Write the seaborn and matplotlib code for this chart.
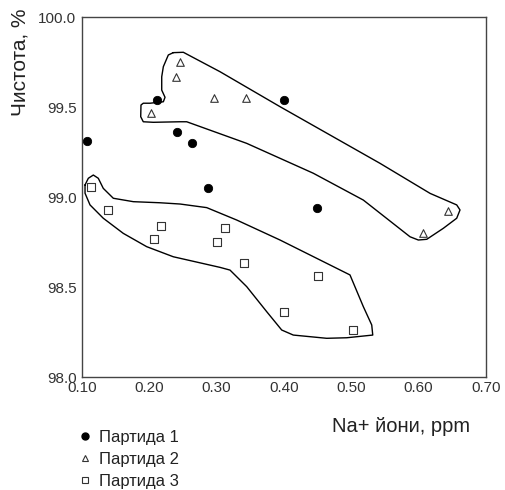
import matplotlib
matplotlib.use("Agg")
import matplotlib.pyplot as plt
import seaborn as sns
import pandas as pd
from matplotlib.lines import Line2D

sns.set_theme(style="white")
plt.rcParams['font.family'] = ['Liberation Sans', 'DejaVu Sans']

# --- data ---
p1_x = [0.108, 0.212, 0.241, 0.263, 0.287, 0.400, 0.449]
p1_y = [99.31, 99.54, 99.36, 99.30, 99.05, 99.54, 98.94]

p2_x = [0.246, 0.240, 0.202, 0.296, 0.343, 0.643, 0.606]
p2_y = [99.75, 99.665, 99.467, 99.548, 99.548, 98.924, 98.80]

p3_x = [0.114, 0.138, 0.218, 0.207, 0.313, 0.300, 0.340, 0.451, 0.400, 0.502]
p3_y = [99.054, 98.93, 98.837, 98.767, 98.83, 98.748, 98.633, 98.56, 98.36, 98.26]

# outline of group 2 region
hull2_x = [0.2356, 0.2505, 0.305, 0.394, 0.5426, 0.617, 0.6565, 0.6614, 0.6565, 0.6366,
           0.612, 0.5995, 0.5872, 0.5178, 0.4435, 0.3446, 0.2555, 0.2456, 0.2059, 0.191,
           0.1872, 0.1876, 0.191, 0.201, 0.2208, 0.2233, 0.2184, 0.2184, 0.2208, 0.2282, 0.2356]
hull2_y = [99.802, 99.804, 99.696, 99.502, 99.187, 99.02, 98.956, 98.928, 98.882, 98.826,
           98.765, 98.761, 98.779, 98.983, 99.132, 99.298, 99.418, 99.418, 99.415, 99.418,
           99.446, 99.511, 99.521, 99.521, 99.529, 99.554, 99.594, 99.668, 99.724, 99.789, 99.802]

# outline of group 3 region
hull3_x = [0.1045, 0.1094, 0.1168, 0.1242, 0.1316, 0.1465, 0.1762, 0.2158, 0.2456, 0.2852,
           0.3298, 0.3941, 0.498, 0.5178, 0.5303, 0.5318, 0.4931, 0.4634, 0.4138, 0.3966,
           0.3743, 0.3446, 0.3198, 0.305, 0.2356, 0.1961, 0.1613, 0.1316, 0.1119, 0.1045, 0.1045]
hull3_y = [99.067, 99.104, 99.122, 99.104, 99.048, 98.993, 98.974, 98.968, 98.961, 98.941,
           98.872, 98.761, 98.567, 98.391, 98.289, 98.233, 98.218, 98.215, 98.233, 98.261,
           98.363, 98.502, 98.594, 98.609, 98.668, 98.724, 98.798, 98.882, 98.956, 99.021, 99.067]

labels = ["Партида 1", "Партида 2", "Партида 3"]
x_ticks = [0.10, 0.20, 0.30, 0.40, 0.50, 0.60, 0.70]
y_ticks = [98.0, 98.5, 99.0, 99.5, 100.0]

fig = plt.figure(figsize=(5.05, 4.90), dpi=100)
ax = fig.add_axes([82/505, 1-377/490, (486-82)/505, (377-17)/490])

df1 = pd.DataFrame({"x": p1_x, "y": p1_y})
df2 = pd.DataFrame({"x": p2_x, "y": p2_y})
df3 = pd.DataFrame({"x": p3_x, "y": p3_y})

sns.lineplot(x=hull2_x, y=hull2_y, sort=False, estimator=None, color="black", lw=1.0, ax=ax)
sns.lineplot(x=hull3_x, y=hull3_y, sort=False, estimator=None, color="black", lw=1.0, ax=ax)

sns.scatterplot(data=df1, x="x", y="y", marker="o", s=36, color="black",
                edgecolor="black", linewidth=0.6, ax=ax, zorder=3)
sns.scatterplot(data=df2, x="x", y="y", marker="^", s=30, facecolor="white",
                edgecolor="#333333", linewidth=0.8, ax=ax, zorder=3)
sns.scatterplot(data=df3, x="x", y="y", marker="s", s=28, facecolor="white",
                edgecolor="#333333", linewidth=0.8, ax=ax, zorder=3)

ax.set_xlim(0.10, 0.70)
ax.set_ylim(98.0, 100.0)
ax.set_xticks(x_ticks)
ax.set_xticklabels([f"{v:.2f}" for v in x_ticks])
ax.set_yticks(y_ticks)
ax.set_yticklabels([f"{v:.1f}" for v in y_ticks])
ax.tick_params(axis="both", length=0, labelsize=11, labelcolor="#333333")
ax.tick_params(axis="x", pad=3)
ax.tick_params(axis="y", pad=4)
for s in ax.spines.values():
    s.set_visible(True)
    s.set_color("#444444")
    s.set_linewidth(1.0)

ax.set_xlabel("Na+ йони, ppm", fontsize=14.5, color="#222222")
ax.xaxis.set_label_coords((401-82)/404, (377-417)/360)
ax.set_ylabel("Чистота, %", fontsize=15, color="#222222")
ax.yaxis.set_label_coords((30-82)/404, (377-62)/360)

handles = [
    Line2D([], [], marker="o", ls="", color="black", markersize=5),
    Line2D([], [], marker="^", ls="", markerfacecolor="white", markeredgecolor="#333333",
           markersize=4.5, markeredgewidth=0.8),
    Line2D([], [], marker="s", ls="", markerfacecolor="white", markeredgecolor="#333333",
           markersize=4.5, markeredgewidth=0.8),
]
fig.legend(handles, labels, loc="upper left", bbox_to_anchor=(77/505, 1-430/490),
           frameon=False, fontsize=12, labelspacing=0.42, handletextpad=0.3,
           handlelength=1.0, borderpad=0, borderaxespad=0, labelcolor="#222222")

fig.savefig("out.png", dpi=100)
